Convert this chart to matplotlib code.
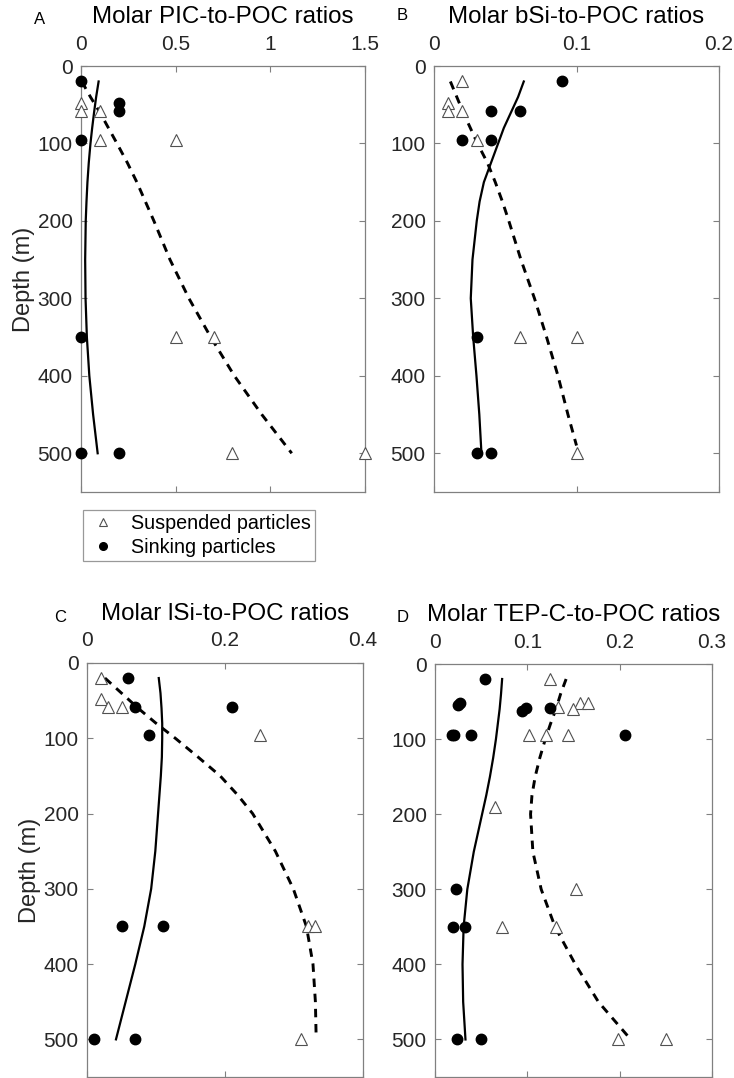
import numpy as np
from matplotlib import pyplot as plt
from matplotlib.lines import Line2D

plt.rcParams['font.family'] = ['Liberation Sans', 'DejaVu Sans']

# ---- data (depth in m) ----
# panel A: PIC/POC
a_susp_x = [0, 0, 0.1, 0.1, 0.5, 0.5, 0.7, 0.8, 1.5]
a_susp_d = [48, 58, 58, 95, 95, 350, 350, 500, 500]
a_sink_x = [0, 0.2, 0.2, 0, 0, 0, 0.2]
a_sink_d = [20, 48, 58, 95, 350, 500, 500]

# panel B: bSi/POC
b_susp_x = [0.02, 0.01, 0.01, 0.02, 0.03, 0.06, 0.1, 0.1]
b_susp_d = [20, 48, 58, 58, 95, 350, 350, 500]
b_sink_x = [0.09, 0.04, 0.06, 0.02, 0.04, 0.03, 0.03, 0.04]
b_sink_d = [20, 58, 58, 95, 95, 350, 500, 500]

# panel C: lSi/POC
c_susp_x = [0.02, 0.02, 0.03, 0.05, 0.25, 0.32, 0.33, 0.31]
c_susp_d = [20, 48, 58, 58, 95, 350, 350, 500]
c_sink_x = [0.06, 0.07, 0.21, 0.09, 0.05, 0.11, 0.01, 0.07]
c_sink_d = [20, 58, 58, 95, 350, 350, 500, 500]

# panel D: TEP-C/POC
d_susp_x = [0.125, 0.157, 0.166, 0.133, 0.149, 0.102, 0.12, 0.144, 0.065,
            0.153, 0.073, 0.131, 0.198, 0.25]
d_susp_d = [20, 52, 52, 57, 60, 95, 95, 95, 190, 300, 350, 350, 500, 500]
d_sink_x = [0.054, 0.025, 0.027, 0.094, 0.099, 0.125, 0.018, 0.021, 0.039,
            0.206, 0.023, 0.02, 0.033, 0.024, 0.05]
d_sink_d = [20, 54, 52, 62, 59, 59, 95, 95, 95, 95, 300, 350, 350, 500, 500]

# fitted profiles (solid = sinking, dashed = suspended), read at these depths
fit_d = [20, 40, 60, 80, 100, 125, 150, 175, 200, 250, 300, 350, 400, 450, 500]
a_fit_sink = [0.093, 0.080, 0.069, 0.059, 0.050, 0.041, 0.034, 0.029, 0.025,
              0.022, 0.024, 0.031, 0.044, 0.064, 0.088]
a_fit_susp = [0.004, 0.05, 0.10, 0.145, 0.19, 0.245, 0.295, 0.34, 0.385,
              0.47, 0.57, 0.685, 0.81, 0.955, 1.113]
b_fit_sink = [0.063, 0.059, 0.054, 0.049, 0.045, 0.040, 0.035, 0.032, 0.030,
              0.027, 0.0258, 0.0275, 0.0298, 0.0318, 0.0333]
b_fit_susp = [0.0115, 0.016, 0.0205, 0.0255, 0.0305, 0.0375, 0.043, 0.048,
              0.0525, 0.061, 0.0705, 0.079, 0.087, 0.094, 0.1]
c_fit_sink = [0.104, 0.1065, 0.108, 0.109, 0.109, 0.1085, 0.107, 0.105, 0.103,
              0.099, 0.093, 0.083, 0.070, 0.056, 0.042]
c_fit_susp = [0.026, 0.05, 0.074, 0.10, 0.128, 0.161, 0.193, 0.218, 0.240,
              0.273, 0.299, 0.318, 0.3275, 0.331, 0.332]
d_fit_sink = [0.0727, 0.0715, 0.070, 0.068, 0.066, 0.063, 0.0595, 0.0555, 0.051,
              0.042, 0.035, 0.031, 0.0298, 0.0305, 0.033]
d_fit_susp = [0.142, 0.136, 0.131, 0.125, 0.1195, 0.1135, 0.1085, 0.105, 0.1035,
              0.106, 0.115, 0.130, 0.152, 0.177, 0.212]
# the dashed curves in B and C stop a little above 500 m
b_susp_fit_d = fit_d[:-1] + [490]
c_susp_fit_d = fit_d[:-1] + [493]

titles = ['Molar PIC-to-POC ratios', 'Molar bSi-to-POC ratios',
          'Molar lSi-to-POC ratios', 'Molar TEP-C-to-POC ratios']
letters = ['A', 'B', 'C', 'D']
xlims = [1.5, 0.2, 0.4, 0.3]
xticks = [[0, 0.5, 1, 1.5], [0, 0.1, 0.2], [0, 0.2, 0.4], [0, 0.1, 0.2, 0.3]]
xticklabels = [['0', '0.5', '1', '1.5'], ['0', '0.1', '0.2'],
               ['0', '0.2', '0.4'], ['0', '0.1', '0.2', '0.3']]
depth_ticks = [0, 100, 200, 300, 400, 500]

panels = [(a_susp_x, a_susp_d, a_sink_x, a_sink_d, a_fit_sink, a_fit_susp, fit_d),
          (b_susp_x, b_susp_d, b_sink_x, b_sink_d, b_fit_sink, b_fit_susp, b_susp_fit_d),
          (c_susp_x, c_susp_d, c_sink_x, c_sink_d, c_fit_sink, c_fit_susp, c_susp_fit_d),
          (d_susp_x, d_susp_d, d_sink_x, d_sink_d, d_fit_sink, d_fit_susp, fit_d)]

W, H = 734, 1078
fig = plt.figure(figsize=(W / 100, H / 100), dpi=100)

# axes boxes in pixels: left, top, right, bottom
boxes = [(81, 66, 365, 492), (434, 66, 719, 492),
         (87, 663, 363, 1077), (435, 664, 712, 1077)]
spine_col = '#808080'

for i, (sx, sd, kx, kd, fs, fu, fud) in enumerate(panels):
    l, t, r, b = boxes[i]
    ax = fig.add_axes([l / W, 1 - b / H, (r - l) / W, (b - t) / H])
    ax.plot(fs, fit_d, color='black', lw=1.6, zorder=2)
    ax.plot(fu, fud, color='black', lw=2.1, dashes=(2.9, 2.3), zorder=2)
    ax.plot(sx, sd, ls='none', marker='^', ms=8.5, mfc='white', mec='#505050',
            mew=0.8, zorder=3, clip_on=False)
    ax.plot(kx, kd, ls='none', marker='o', ms=7.5, mfc='black', mec='black',
            zorder=3, clip_on=False)
    ax.set_xlim(0, xlims[i])
    ax.set_ylim(550, 0)
    ax.set_xticks(xticks[i])
    ax.set_xticklabels(xticklabels[i])
    ax.set_yticks(depth_ticks)
    ax.tick_params(direction='in', length=4, width=0.8, color=spine_col,
                   top=True, right=True, bottom=True, left=True,
                   labeltop=True, labelbottom=False, labelsize=15,
                   labelcolor='#262626')
    ax.tick_params(axis='x', pad=9)
    ax.tick_params(axis='y', pad=6)
    for s in ax.spines.values():
        s.set_color(spine_col)
        s.set_linewidth(0.9)
    ax.set_title(titles[i], fontsize=17.4, pad=8)
    if i in (0, 2):
        ax.set_ylabel('Depth (m)', fontsize=17, labelpad=2, color='#262626')
    lx = [40, 402, 60, 403][i]
    ly = [20, 15, 618, 617][i]
    fig.text(lx / W, 1 - ly / H, letters[i], fontsize=12, ha='center',
             va='center')

handles = [Line2D([], [], ls='none', marker='^', ms=6, mfc='white',
                  mec='#505050', mew=0.8),
           Line2D([], [], ls='none', marker='o', ms=5.5, mfc='black',
                  mec='black')]
leg = fig.legend(handles, ['Suspended particles', 'Sinking particles'],
                 loc='upper left', bbox_to_anchor=(83 / W, 1 - 510 / H),
                 borderaxespad=0, fontsize=14.2, fancybox=False,
                 edgecolor=spine_col, handlelength=1.6, handletextpad=0.6,
                 labelspacing=0.22, borderpad=0.22, frameon=True)
leg.get_frame().set_linewidth(0.9)

fig.savefig('out.png', dpi=100)
